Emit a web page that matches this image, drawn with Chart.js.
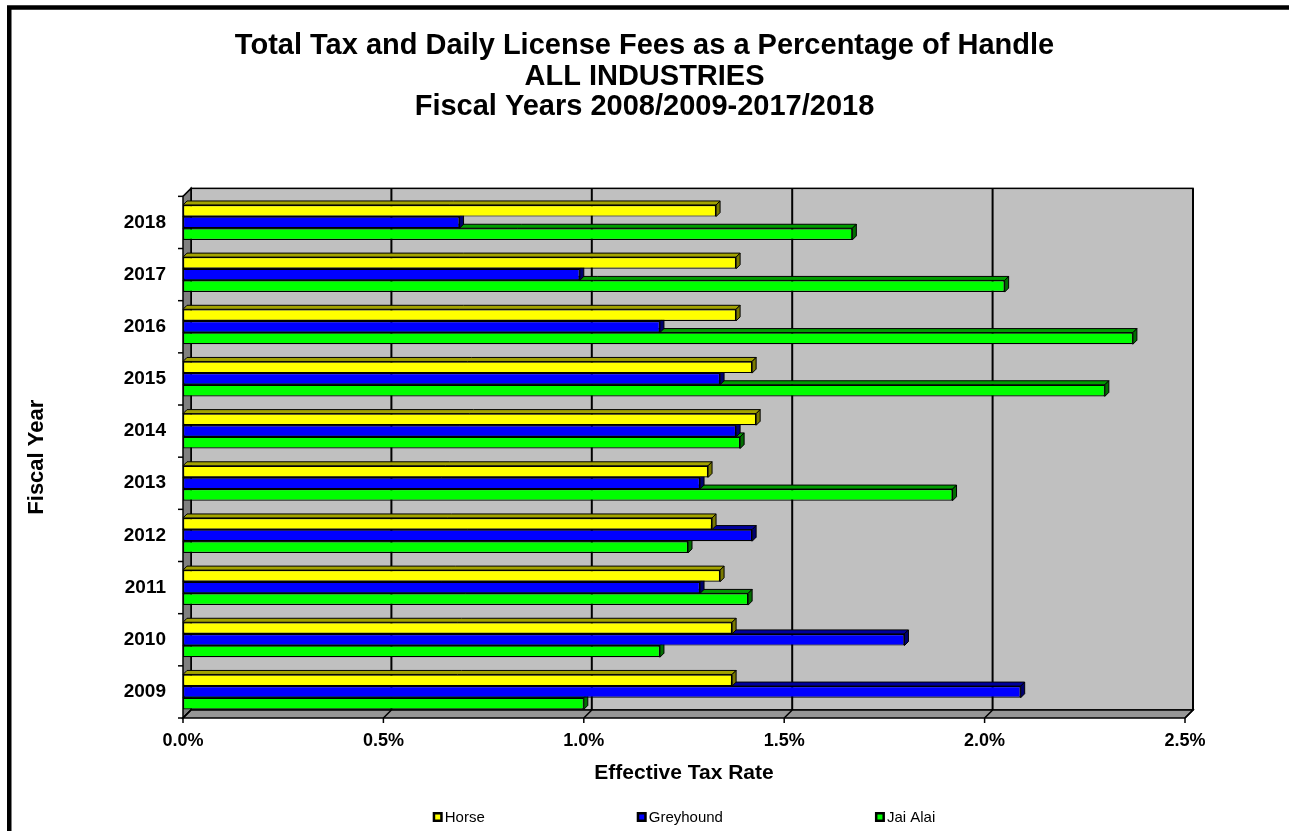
<!DOCTYPE html>
<html>
<head>
    <title>Total Tax and Daily License Fees as a Percentage of Handle</title>
    <style>
        body { margin: 0; padding: 0; background: #fff; }
        #chartBox { width: 1289px; height: 831px; position: relative; }
    </style>
    <script src="https://cdn.jsdelivr.net/npm/chart.js"></script>
</head>
<body>

    <div id="chartBox">
        <canvas id="taxChart"></canvas>
    </div>

    <script>
        // fiscal years, top to bottom as in the original
        const years = ['2018', '2017', '2016', '2015', '2014', '2013', '2012', '2011', '2010', '2009'];

        // effective tax rate, percent of handle
        const horse     = [1.33, 1.38, 1.38, 1.42, 1.43, 1.31, 1.32, 1.34, 1.37, 1.37];
        const greyhound = [0.69, 0.99, 1.19, 1.34, 1.38, 1.29, 1.42, 1.29, 1.80, 2.09];
        const jaiAlai   = [1.67, 2.05, 2.37, 2.30, 1.39, 1.92, 1.26, 1.41, 1.19, 1.00];

        const seriesNames = ['Horse', 'Greyhound', 'Jai Alai'];
        const xMin = 0, xMax = 2.5, xStep = 0.5;

        const fillColors = ['#ffff00', '#0000ff', '#00ff00'];
        const capColors = [['#a3a300', '#7a7a00'], ['#00009c', '#000070'], ['#009c00', '#007000']];

        Chart.defaults.font.family = '"Liberation Sans", Arial, sans-serif';
        Chart.defaults.color = '#000';

        // excel style 3d walls, floor and bar caps
        const wall3d = {
            id: 'wall3d',
            beforeDatasetsDraw(chart) {
                const { ctx, chartArea: a, scales: { x, y } } = chart;
                const dx = 8, dy = 8;
                ctx.save();
                ctx.lineWidth = 1.5;
                ctx.strokeStyle = '#000';

                // back wall
                ctx.fillStyle = '#c0c0c0';
                ctx.fillRect(a.left + dx, a.top - dy, a.right - a.left, a.bottom - a.top);
                ctx.strokeRect(a.left + dx, a.top - dy, a.right - a.left, a.bottom - a.top);

                ctx.lineWidth = 2;
                x.ticks.forEach(t => {
                    const px = x.getPixelForValue(t.value) + dx;
                    ctx.beginPath();
                    ctx.moveTo(px, a.top - dy);
                    ctx.lineTo(px, a.bottom - dy);
                    ctx.stroke();
                });
                ctx.lineWidth = 1.5;

                // side wall
                ctx.fillStyle = '#808080';
                ctx.beginPath();
                ctx.moveTo(a.left, a.top);
                ctx.lineTo(a.left + dx, a.top - dy);
                ctx.lineTo(a.left + dx, a.bottom - dy);
                ctx.lineTo(a.left, a.bottom);
                ctx.closePath();
                ctx.fill();
                ctx.stroke();

                // floor
                ctx.fillStyle = '#969696';
                ctx.beginPath();
                ctx.moveTo(a.left, a.bottom);
                ctx.lineTo(a.left + dx, a.bottom - dy);
                ctx.lineTo(a.right + dx, a.bottom - dy);
                ctx.lineTo(a.right, a.bottom);
                ctx.closePath();
                ctx.fill();
                ctx.stroke();

                x.ticks.forEach(t => {
                    const px = x.getPixelForValue(t.value);
                    ctx.beginPath();
                    ctx.moveTo(px, a.bottom);
                    ctx.lineTo(px + dx, a.bottom - dy);
                    ctx.moveTo(px, a.bottom);
                    ctx.lineTo(px, a.bottom + 5);
                    ctx.stroke();
                });

                // category tick marks on the left
                const half = (y.getPixelForValue(1) - y.getPixelForValue(0)) / 2;
                for (let i = 0; i <= years.length; i++) {
                    const py = y.getPixelForValue(i) - half;
                    ctx.beginPath();
                    ctx.moveTo(a.left - 5, py);
                    ctx.lineTo(a.left, py);
                    ctx.stroke();
                }

                // bar caps, bottom series first so the upper bar stays in front
                const c = 4;
                ctx.lineWidth = 1;
                for (let d = chart.data.datasets.length - 1; d >= 0; d--) {
                    const meta = chart.getDatasetMeta(d);
                    meta.data.forEach(bar => {
                        const p = bar.getProps(['x', 'y', 'base', 'height'], true);
                        const top = p.y - p.height / 2, bot = p.y + p.height / 2;
                        ctx.fillStyle = capColors[d][0];
                        ctx.beginPath();
                        ctx.moveTo(p.base, top);
                        ctx.lineTo(p.base + c, top - c);
                        ctx.lineTo(p.x + c, top - c);
                        ctx.lineTo(p.x, top);
                        ctx.closePath();
                        ctx.fill();
                        ctx.stroke();
                        ctx.fillStyle = capColors[d][1];
                        ctx.beginPath();
                        ctx.moveTo(p.x, top);
                        ctx.lineTo(p.x + c, top - c);
                        ctx.lineTo(p.x + c, bot - c);
                        ctx.lineTo(p.x, bot);
                        ctx.closePath();
                        ctx.fill();
                        ctx.stroke();
                    });
                }
                ctx.restore();
            }
        };

        // legend spread out under the axis title, plus the outer frame
        const legendAndFrame = {
            id: 'legendAndFrame',
            afterDraw(chart) {
                const { ctx, chartArea: a } = chart;
                ctx.save();
                ctx.font = '15px "Liberation Sans", Arial, sans-serif';
                ctx.textBaseline = 'middle';
                const box = 10, gap = 152, ly = 817;
                const widths = seriesNames.map(n => box + 2 + ctx.measureText(n).width);
                const total = widths.reduce((s, w) => s + w, 0) + gap * (seriesNames.length - 1);
                let lx = (a.left + a.right) / 2 - total / 2;
                seriesNames.forEach((n, i) => {
                    ctx.fillStyle = '#000';
                    ctx.fillRect(lx, ly - box / 2, box, box);
                    ctx.fillStyle = fillColors[i];
                    ctx.fillRect(lx + 2.5, ly - box / 2 + 2.5, box - 5, box - 5);
                    ctx.fillStyle = '#000';
                    ctx.fillText(n, lx + box + 2, ly + 1);
                    lx += widths[i] + gap;
                });

                ctx.lineWidth = 4.5;
                ctx.strokeStyle = '#000';
                ctx.strokeRect(9.25, 7.5, 1400, 1000);
                ctx.restore();
            }
        };

        const ctx = document.getElementById('taxChart').getContext('2d');
        new Chart(ctx, {
            type: 'bar',
            data: {
                labels: years,
                datasets: [
                    { label: seriesNames[0], data: horse, backgroundColor: fillColors[0] },
                    { label: seriesNames[1], data: greyhound, backgroundColor: fillColors[1] },
                    { label: seriesNames[2], data: jaiAlai, backgroundColor: fillColors[2] }
                ]
            },
            options: {
                indexAxis: 'y',
                responsive: true,
                maintainAspectRatio: false,
                animation: false,
                layout: { padding: { left: 20, right: 20, top: 0, bottom: 45 } },
                datasets: {
                    bar: {
                        borderColor: '#000',
                        borderWidth: 1.2,
                        borderSkipped: false,
                        categoryPercentage: 0.67,
                        barPercentage: 1.0
                    }
                },
                plugins: {
                    legend: { display: false },
                    tooltip: { enabled: false },
                    title: {
                        display: true,
                        text: [
                            'Total Tax and Daily License Fees as a Percentage of Handle',
                            'ALL INDUSTRIES',
                            'Fiscal Years 2008/2009-2017/2018'
                        ],
                        font: { size: 29, weight: 'bold', lineHeight: 1.05 },
                        color: '#000',
                        padding: { top: 31, bottom: 74 }
                    }
                },
                scales: {
                    x: {
                        min: xMin,
                        max: xMax,
                        grid: { display: false, drawTicks: false },
                        border: { display: false },
                        ticks: {
                            stepSize: xStep,
                            padding: 12,
                            font: { size: 18, weight: 'bold' },
                            callback: v => v.toFixed(1) + '%'
                        },
                        title: {
                            display: true,
                            text: 'Effective Tax Rate',
                            font: { size: 21, weight: 'bold' },
                            padding: { top: 0, bottom: 0 }
                        },
                        afterFit: s => { s.height = 68; }
                    },
                    y: {
                        grid: { display: false, drawTicks: false },
                        border: { display: false },
                        ticks: {
                            padding: 17,
                            font: { size: 19, weight: 'bold' }
                        },
                        title: {
                            display: true,
                            text: 'Fiscal Year',
                            font: { size: 22, weight: 'bold' },
                            padding: { top: 4, bottom: 0 }
                        },
                        afterFit: s => { s.width = 163; }
                    },
                    y2: {
                        position: 'right',
                        display: true,
                        grid: { display: false },
                        border: { display: false },
                        ticks: { display: false },
                        afterFit: s => { s.width = 84; }
                    }
                }
            },
            plugins: [wall3d, legendAndFrame]
        });
    </script>

</body>
</html>
